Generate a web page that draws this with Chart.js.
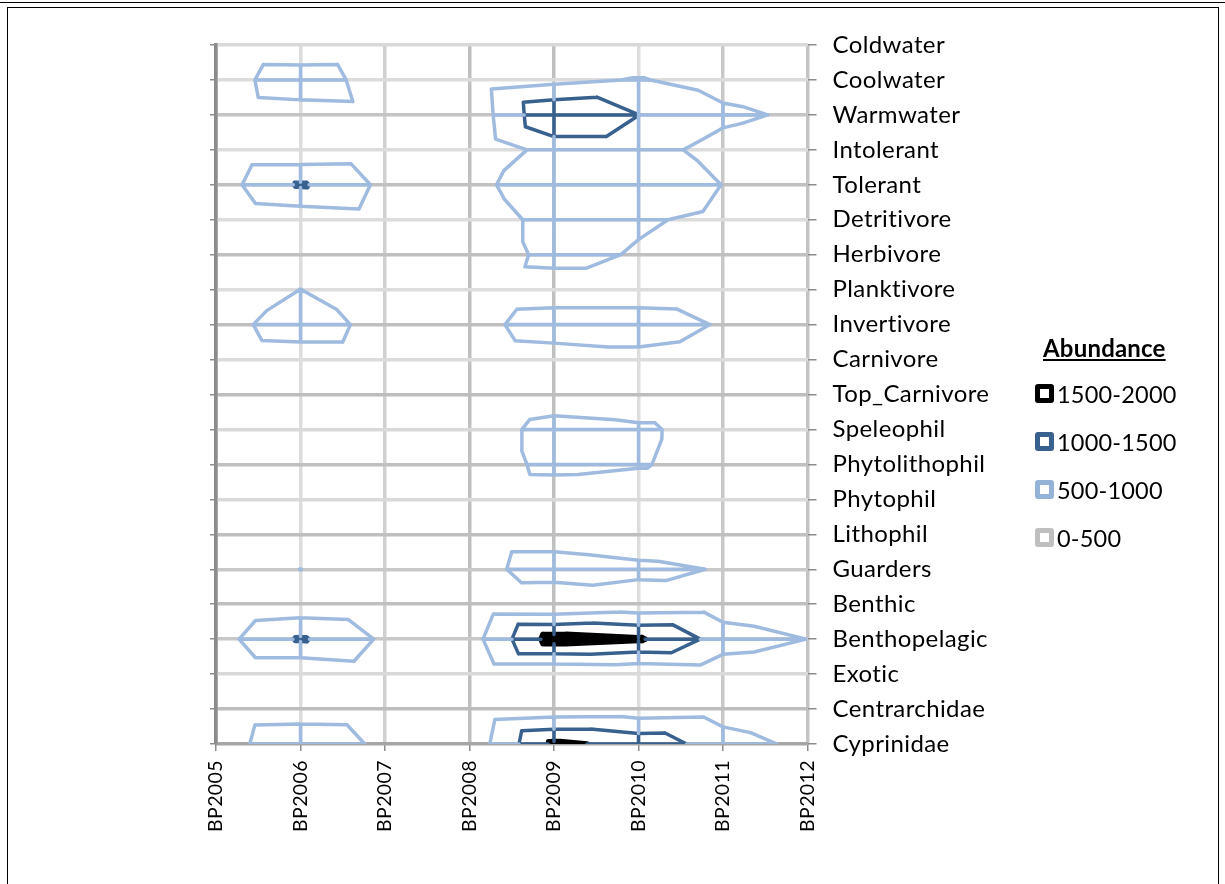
<!DOCTYPE html>
<html>
<head>
<meta charset="utf-8">
<title>Abundance by guild</title>
<script src="https://cdn.jsdelivr.net/npm/chart.js@4.4.1/dist/chart.umd.min.js"></script>
<style>
  html, body { margin: 0; padding: 0; background: #fff; }
  #wrap { position: relative; width: 1225px; height: 884px; overflow: hidden; background: #fff; }
  #topline { position: absolute; left: 0; top: 2px; width: 1225px; height: 1px; background: #000; }
  #frame { position: absolute; left: 7px; top: 7px; width: 1212px; height: 900px; border: 1px solid #000; box-sizing: border-box; }
  #chart { position: absolute; left: 0; top: 0; }
  #legend { position: absolute; left: 1035px; top: 334px; font-family: Lato, "Open Sans", sans-serif; color: #000; font-variant-ligatures: none; }
  #legend .ttl { font-weight: bold; text-decoration: underline; font-size: 24px; line-height: 28px; margin-left: 8px; letter-spacing: 0.2px; }
  #legend .item { position: relative; height: 48px; line-height: 20px; font-size: 23.5px; padding-left: 22px; letter-spacing: 0.2px; }
  #legend .box { position: absolute; left: 0; top: 0; width: 19px; height: 19px; box-sizing: border-box; border: 5px solid #000; border-radius: 3px; background: #fff; }
</style>
</head>
<body>
<div id="wrap">
  <div id="topline"></div>
  <div id="frame"></div>
  <canvas id="chart" width="1225" height="884"></canvas>
  <div id="legend"></div>
</div>
<script>
// Sampling years (columns) and fish guilds (rows, top to bottom)
const years = ['BP2005', 'BP2006', 'BP2007', 'BP2008', 'BP2009', 'BP2010', 'BP2011', 'BP2012'];
const guilds = ['Coldwater', 'Coolwater', 'Warmwater', 'Intolerant', 'Tolerant', 'Detritivore',
  'Herbivore', 'Planktivore', 'Invertivore', 'Carnivore', 'Top_Carnivore', 'Speleophil',
  'Phytolithophil', 'Phytophil', 'Lithophil', 'Guarders', 'Benthic', 'Benthopelagic',
  'Exotic', 'Centrarchidae', 'Cyprinidae'];

// Abundance per guild, one value per year
const coldwater      = [55, 36, 55, 0, 0, 0, 0, 0];
const coolwater      = [202, 850, 202, 158, 364, 535, 290, 150];
const warmwater      = [150, 236, 285, 119, 1480, 1005, 608, 404];
const intolerant     = [76, 93, 119, 62, 706, 706, 317, 150];
const tolerant       = [246, 1070, 381, 359, 800, 918, 490, 100];
const detritivore    = [0, 140, 246, 159, 700, 570, 370, 50];
const herbivore      = [0, 150, 0, 33, 700, 447, 150, 0];
const planktivore    = [50, 505, 102, 118, 180, 180, 133, 0];
const invertivore    = [264, 800, 292, 283, 800, 800, 445, 0];
const carnivore      = [142, 200, 200, 148, 234, 331, 188, 0];
const topCarnivore   = [0, 0, 0, 0, 187, 0, 0, 0];
const speleophil     = [0, 0, 0, 174, 700, 620, 191, 0];
const phytolithophil = [0, 0, 0, 75, 700, 560, 185, 0];
const phytophil      = [0, 0, 0, 0, 33, 0, 0, 0];
const lithophil      = [0, 0, 0, 200, 200, 73, 0, 0];
const guarders       = [0, 505, 0, 264, 800, 650, 460, 0];
const benthic        = [0, 140, 58, 20, 0, 145, 189, 0];
const benthopelagic  = [286, 1070, 412, 267, 1725, 1560, 793, 495];
const exotic         = [0, 0, 169, 0, 0, 46, 120, 0];
const centrarchidae  = [202, 236, 214, 29, 171, 203, 249, 0];
const cyprinidae     = [267, 850, 390, 153, 1600, 1344, 741, 364];

// Contour bands
const bandBreaks = [500, 1000, 1500];
const bandLabels = ['1500-2000', '1000-1500', '500-1000', '0-500'];

const abundance = [coldwater, coolwater, warmwater, intolerant, tolerant, detritivore,
  herbivore, planktivore, invertivore, carnivore, topCarnivore, speleophil,
  phytolithophil, phytophil, lithophil, guarders, benthic, benthopelagic,
  exotic, centrarchidae, cyprinidae];

// Wireframe colours and widths per band (0-500, 500-1000, 1000-1500, 1500-2000)
const bandColors = ['#bfbfbf', '#9fbbe0', '#38618f', '#000000'];
const bandWidths = [3.5, 3.5, 3.5, 5.5];
const legendColors = ['#000000', '#38618f', '#95b3d7', '#bfbfbf'];

function bandOf(v) {
  let b = 0;
  for (const L of bandBreaks) if (v >= L) b++;
  return b;
}

// Polyline buffers, one per band; null points break the line
const paths = bandColors.map(() => []);
function addSeg(b, p, q) {
  paths[b].push({ x: p.x, y: p.y }, { x: q.x, y: q.y }, { x: null, y: null });
}
function node(c, r) { return { x: c, y: r, v: abundance[r][c] }; }
function lerp(P, Q, t) { return { x: P.x + (Q.x - P.x) * t, y: P.y + (Q.y - P.y) * t }; }

// Mesh edges: split at band breaks, colour each piece by its band
function meshEdge(P, Q) {
  const ts = [0, 1];
  for (const L of bandBreaks) {
    if ((P.v < L) !== (Q.v < L)) ts.push((L - P.v) / (Q.v - P.v));
  }
  ts.sort((a, b) => a - b);
  for (let k = 0; k < ts.length - 1; k++) {
    const tm = (ts[k] + ts[k + 1]) / 2;
    const b = bandOf(P.v + (Q.v - P.v) * tm);
    if (b > 0 && ts[k + 1] > ts[k]) addSeg(b, lerp(P, Q, ts[k]), lerp(P, Q, ts[k + 1]));
  }
}

// Contour lines inside one triangle
function triangle(A, B, C) {
  for (const L of bandBreaks) {
    const hits = [];
    for (const [P, Q] of [[A, B], [B, C], [C, A]]) {
      if ((P.v < L) !== (Q.v < L)) hits.push(lerp(P, Q, (L - P.v) / (Q.v - P.v)));
    }
    if (hits.length === 2) addSeg(bandOf(L), hits[0], hits[1]);
  }
}

const nRows = guilds.length, nCols = years.length;
for (let r = 0; r < nRows; r++)
  for (let c = 0; c < nCols - 1; c++) meshEdge(node(c, r), node(c + 1, r));
for (let c = 0; c < nCols; c++)
  for (let r = 0; r < nRows - 1; r++) meshEdge(node(c, r), node(c, r + 1));
for (let r = 0; r < nRows - 1; r++) {
  for (let c = 0; c < nCols - 1; c++) {
    const TL = node(c, r), TR = node(c + 1, r), BL = node(c, r + 1), BR = node(c + 1, r + 1);
    // split each cell along the diagonal joining the larger pair of corners
    if (TL.v + BR.v >= TR.v + BL.v) { triangle(TL, TR, BR); triangle(TL, BL, BR); }
    else { triangle(TR, TL, BL); triangle(TR, BR, BL); }
  }
}

const datasets = [1, 2, 3].map(b => ({
  label: bandLabels[3 - b],
  data: paths[b],
  showLine: true,
  spanGaps: false,
  borderColor: bandColors[b],
  borderWidth: bandWidths[b],
  pointRadius: 0,
  pointHoverRadius: 0,
  fill: false,
  tension: 0,
  borderCapStyle: 'round',
  borderJoinStyle: 'round'
}));

// Gridline shades of the 0-500 wireframe
const colShades = ['#8c8c8c', '#dcdcdc', '#d0d0d0', '#bfbfbf', '#c0c0c0', '#dedede', '#c8c8c8', '#c4c4c4'];
const rowShades = ['#a6a6a6', '#bdbdbd', '#d9d9d9', '#c8c8c8', '#bfbfbf', '#c8c8c8', '#bfbfbf', '#d9d9d9',
  '#bfbfbf', '#d9d9d9', '#bdbdbd', '#dcdcdc', '#bfbfbf', '#dcdcdc', '#c0c0c0', '#dcdcdc',
  '#c0c0c0', '#dcdcdc', '#c4c4c4', '#dcdcdc', '#d9d9d9'];

const FONT = 'Lato, "Open Sans", sans-serif';

// Plain glyph shaping for axis text (no ligatures)
const plainText = {
  id: 'plainText',
  beforeUpdate(chart) { chart.ctx.textRendering = 'optimizeSpeed'; chart.ctx.letterSpacing = '0.4px'; },
  beforeDraw(chart) { chart.ctx.textRendering = 'optimizeSpeed'; chart.ctx.letterSpacing = '0.4px'; }
};

new Chart(document.getElementById('chart'), {
  type: 'scatter',
  data: { datasets },
  plugins: [plainText],
  options: {
    responsive: false,
    animation: false,
    devicePixelRatio: 1,
    layout: { padding: { left: 206, right: 0, top: 45, bottom: 0 } },
    plugins: { legend: { display: false }, tooltip: { enabled: false } },
    events: [],
    scales: {
      x: {
        type: 'linear', position: 'bottom', min: 0, max: nCols - 1,
        afterFit: s => { s.height = 140; },
        border: { display: false },
        grid: {
          color: ctx => colShades[ctx.index] || '#c8c8c8',
          lineWidth: 3.5,
          drawTicks: true, tickLength: 7, tickColor: '#8c8c8c', tickWidth: 1.5
        },
        ticks: {
          stepSize: 1, autoSkip: false, minRotation: 90, maxRotation: 90, padding: 9,
          color: '#000', font: { family: FONT, size: 19.5 },
          callback: v => years[v]
        }
      },
      y: {
        type: 'linear', position: 'right', min: 0, max: nRows - 1, reverse: true,
        afterFit: s => { s.width = 1225 - 807.5; },
        border: { display: false },
        grid: {
          color: ctx => rowShades[ctx.index] || '#c8c8c8',
          lineWidth: 3.5,
          drawTicks: true, tickLength: 9, tickColor: '#8c8c8c', tickWidth: 1.5
        },
        ticks: {
          stepSize: 1, autoSkip: false, padding: 16,
          color: '#000', font: { family: FONT, size: 24 },
          callback: v => guilds[v]
        }
      },
      yLeft: {
        type: 'linear', position: 'left', min: 0, max: nRows - 1, reverse: true,
        afterFit: s => { s.width = 10; },
        border: { display: true, color: '#8c8c8c', width: 3.5 },
        grid: { drawOnChartArea: false, drawTicks: true, tickLength: 6, color: '#8c8c8c', lineWidth: 1.5 },
        ticks: { stepSize: 1, autoSkip: false, display: true, padding: 0, font: { size: 1 }, callback: () => '' }
      }
    }
  }
});

// Legend
const legend = document.getElementById('legend');
const ttl = document.createElement('div');
ttl.className = 'ttl';
ttl.textContent = 'Abundance';
ttl.style.marginBottom = '22px';
legend.appendChild(ttl);
bandLabels.forEach((lab, i) => {
  const item = document.createElement('div');
  item.className = 'item';
  const box = document.createElement('span');
  box.className = 'box';
  box.style.borderColor = legendColors[i];
  item.appendChild(box);
  item.appendChild(document.createTextNode(lab));
  legend.appendChild(item);
});
</script>
</body>
</html>
